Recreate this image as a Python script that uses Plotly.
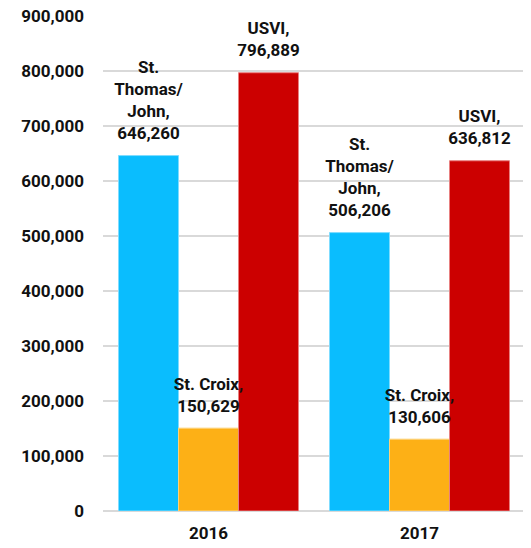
import plotly.graph_objects as go

years = ["2016", "2017"]
st_thomas = [646260, 506206]
st_croix = [150629, 130606]
usvi = [796889, 636812]
tick_vals = [0, 100000, 200000, 300000, 400000, 500000, 600000, 700000, 800000, 900000]
tick_text = ["0", "100,000", "200,000", "300,000", "400,000", "500,000", "600,000", "700,000", "800,000", "900,000"]

FONT = "Roboto"
BOLD = dict(family=FONT, size=17, color="#111111", weight="bold")

series = [
    ("St. Thomas/John", st_thomas, "#0ABDFE", "#7FDCFF", "St.<br>Thomas/<br>John,<br>"),
    ("St. Croix", st_croix, "#FDB016", "#FDD27A", "St. Croix,<br>"),
    ("USVI", usvi, "#CC0000", "#E88080", "USVI,<br>"),
]
W, H = 523, 540
L, R, T, B = 95, 6, 8, 37
BARGAP = 0.147

fig = go.Figure()
for i, (name, vals, col, lc, pre) in enumerate(series):
    fig.add_trace(go.Bar(
        x=years, y=vals, name=name, offsetgroup=str(i),
        marker=dict(color=col, line=dict(color=lc, width=1)),
    ))
for i, (name, vals, col, lc, pre) in enumerate(series):
    fig.add_trace(go.Scatter(
        x=years, y=vals, name=name + " label", offsetgroup=str(i),
        mode="markers+text", marker=dict(size=18, opacity=0),
        text=[pre + f"{v:,}" for v in vals],
        textposition="top center", textfont=BOLD, cliponaxis=False,
        hoverinfo="skip",
    ))

fig.update_layout(
    width=W, height=H,
    margin=dict(l=L, r=R, t=T, b=B, autoexpand=False),
    paper_bgcolor="white", plot_bgcolor="white",
    barmode="group", bargap=BARGAP, bargroupgap=0,
    scattermode="group", scattergap=BARGAP,
    showlegend=False,
    font=BOLD,
)
fig.update_yaxes(range=[0, 900000], tickvals=tick_vals, ticktext=tick_text,
                 showgrid=True, gridcolor="#D9D9D9", gridwidth=1.5,
                 zeroline=True, zerolinecolor="#D9D9D9", zerolinewidth=1.5,
                 automargin=False,
                 ticklabelstandoff=18, ticklabeloverflow="allow", tickfont=BOLD)
fig.update_xaxes(type="category", showgrid=False, showline=False, automargin=False,
                 ticklabelstandoff=10, tickfont=BOLD)

fig.write_html("out.html")
